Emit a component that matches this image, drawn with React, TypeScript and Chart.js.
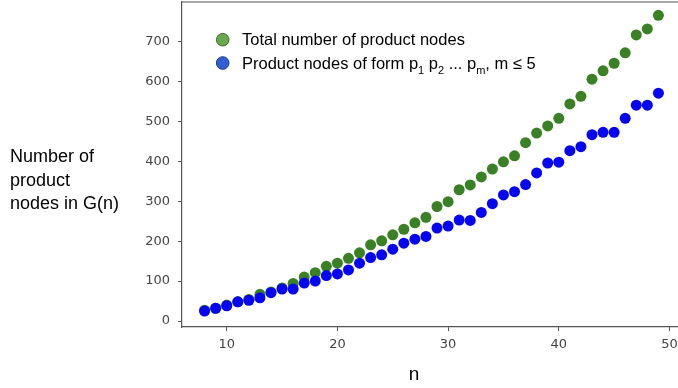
import React, { useEffect, useRef } from "react";
import { Chart, registerables } from "chart.js";

Chart.register(...registerables);

// ---- data ----
const nValues = [8, 9, 10, 11, 12, 13, 14, 15, 16, 17, 18, 19, 20, 21, 22, 23, 24, 25, 26, 27, 28, 29, 30, 31, 32, 33, 34, 35, 36, 37, 38, 39, 40, 41, 42, 43, 44, 45, 46, 47, 48, 49];
const totalNodes = [27, 32, 40, 48, 54, 67, 73, 83, 94, 110, 121, 137, 145, 157, 171, 191, 201, 216, 230, 246, 260, 287, 299, 329, 341, 361, 381, 399, 414, 447, 471, 489, 508, 544, 563, 606, 627, 646, 672, 717, 732, 766];
const formNodes = [25, 32, 38, 48, 52, 58, 71, 80, 80, 95, 100, 114, 118, 128, 145, 159, 166, 180, 195, 205, 212, 233, 238, 253, 252, 272, 294, 316, 324, 342, 371, 396, 398, 427, 437, 467, 473, 473, 508, 541, 541, 571];
const xTicks = [10, 20, 30, 40, 50];
const yTicks = [0, 100, 200, 300, 400, 500, 600, 700];
const yTitleLines = ["Number of", "product", "nodes in G(n)"];
const xTitle = "n";
const legendTotal = "Total number of product nodes";
const legendForm = [
  { t: "Product nodes of form p", sub: false },
  { t: "1", sub: true },
  { t: " p", sub: false },
  { t: "2", sub: true },
  { t: " ... p", sub: false },
  { t: "m", sub: true },
  { t: ", m \u2264 5", sub: false },
];

const SANS = '"Liberation Sans", Arial, Helvetica, sans-serif';

const decorPlugin = {
  id: "decor",
  afterDraw(chart: any) {
    const ctx = chart.ctx as CanvasRenderingContext2D;
    const ca = chart.chartArea;
    ctx.save();
    // top frame line
    ctx.strokeStyle = "#555";
    ctx.lineWidth = 1.2;
    ctx.beginPath();
    ctx.moveTo(ca.left, ca.top);
    ctx.lineTo(ca.right, ca.top);
    ctx.stroke();

    // y title (horizontal, multi-line)
    ctx.fillStyle = "#000";
    ctx.textAlign = "left";
    ctx.textBaseline = "alphabetic";
    ctx.font = `18px ${SANS}`;
    const baselines = [162, 185.5, 209];
    yTitleLines.forEach((line, i) => ctx.fillText(line, 10, baselines[i]));

    // x title
    ctx.textAlign = "center";
    ctx.font = `19px ${SANS}`;
    ctx.fillText(xTitle, 414, 380);

    // legend
    const drawDot = (cx: number, cy: number, fill: string, stroke: string) => {
      ctx.beginPath();
      ctx.arc(cx, cy, 6.3, 0, Math.PI * 2);
      ctx.fillStyle = fill;
      ctx.fill();
      ctx.lineWidth = 1;
      ctx.strokeStyle = stroke;
      ctx.stroke();
    };
    drawDot(222.7, 39.7, "#6aa84f", "#3f6f2c");
    drawDot(222.7, 63, "#2f5fd0", "#1c3a8a");

    ctx.fillStyle = "#000";
    ctx.textAlign = "left";
    ctx.font = `16.5px ${SANS}`;
    ctx.fillText(legendTotal, 242, 45);

    let x = 242;
    legendForm.forEach((seg) => {
      if (seg.sub) {
        ctx.font = `11px ${SANS}`;
        ctx.fillText(seg.t, x, 73.5);
      } else {
        ctx.font = `16.5px ${SANS}`;
        ctx.fillText(seg.t, x, 68.5);
      }
      x += ctx.measureText(seg.t).width;
    });
    ctx.restore();
  },
};

export default function App() {
  const ref = useRef<HTMLCanvasElement | null>(null);

  useEffect(() => {
    if (!ref.current) return;
    const chart = new Chart(ref.current, {
      type: "scatter",
      data: {
        datasets: [
          {
            label: legendTotal,
            data: nValues.map((n, i) => ({ x: n, y: totalNodes[i] })),
            backgroundColor: "#3a8024",
            pointRadius: 5.5,
            pointBorderWidth: 0,
            order: 2,
          },
          {
            label: "Product nodes of form p1 p2 ... pm, m ≤ 5",
            data: nValues.map((n, i) => ({ x: n, y: formNodes[i] })),
            backgroundColor: "#0505f2",
            pointRadius: 5.5,
            pointBorderWidth: 0,
            order: 1,
          },
        ],
      },
      options: {
        responsive: false,
        animation: false,
        devicePixelRatio: 1,
        layout: { autoPadding: false, padding: { top: 2, left: 0, right: 0, bottom: 0 } },
        plugins: {
          legend: { display: false },
          tooltip: { enabled: false },
        },
        scales: {
          x: {
            type: "linear",
            min: 5.96,
            max: 50.77,
            afterBuildTicks: (s: any) => {
              s.ticks = xTicks.map((v) => ({ value: v }));
            },
            afterFit: (s: any) => {
              s.height = 61;
              s.paddingLeft = 0;
              s.paddingRight = 0;
            },
            grid: { drawOnChartArea: false, drawTicks: true, tickLength: 4, color: "#555" },
            border: { display: true, color: "#555", width: 1.2 },
            ticks: {
              padding: 6,
              color: "#444",
              font: { family: '"DejaVu Sans", sans-serif', size: 13 },
              maxRotation: 0,
            },
          },
          y: {
            type: "linear",
            min: -15,
            max: 799.5,
            afterBuildTicks: (s: any) => {
              s.ticks = yTicks.map((v) => ({ value: v }));
            },
            afterFit: (s: any) => {
              s.width = 182;
              s.paddingTop = 0;
              s.paddingBottom = 0;
            },
            grid: { drawOnChartArea: false, drawTicks: true, tickLength: 4, color: "#555" },
            border: { display: true, color: "#555", width: 1.2 },
            ticks: {
              padding: 8,
              color: "#444",
              font: { family: '"DejaVu Sans", sans-serif', size: 13 },
            },
          },
        },
      },
      plugins: [decorPlugin],
    } as any);
    return () => chart.destroy();
  }, []);

  return (
    <div style={{ position: "absolute", left: 0, top: 0, width: 678, height: 388, overflow: "hidden", background: "#fff" }}>
      <canvas ref={ref} width={678} height={388} style={{ display: "block", width: 678, height: 388 }} />
    </div>
  );
}
